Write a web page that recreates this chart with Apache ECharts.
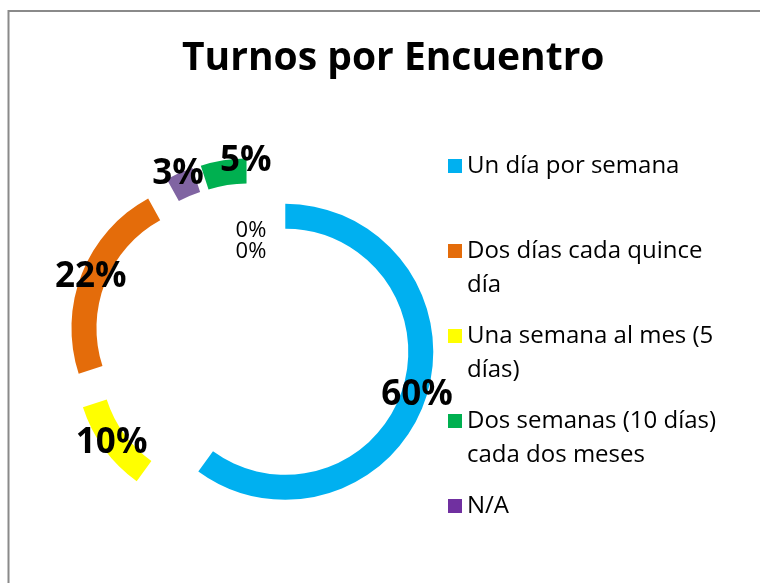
<!DOCTYPE html>
<html>
<head>
<meta charset="utf-8">
<title>Turnos por Encuentro</title>
<script src="https://cdn.jsdelivr.net/npm/echarts@6/dist/echarts.min.js"></script>
<style>
  html, body { margin: 0; padding: 0; background: #fff; overflow: hidden; }
  #chart { width: 760px; height: 583px; }
</style>
</head>
<body>
<div id="chart"></div>
<script>
// slices clockwise from 12 o'clock, as in the picture
const sliceNames = [
  'Un día por semana',
  'Una semana al mes (5 días)',
  'Dos días cada quince día',
  'N/A',
  'Dos semanas (10 días) cada dos meses',
  'Sin dato 1',
  'Sin dato 2'
]
const sliceValues = [60, 10, 22, 3, 5, 0, 0]
const sliceColors = ['#00B0F0', '#FFFF00', '#E46C0A', '#8064A2', '#00B050', '#FFFFFF', '#FFFFFF']

// legend order and how the legend wraps each name
const legendOrder = [
  'Un día por semana',
  'Dos días cada quince día',
  'Una semana al mes (5 días)',
  'Dos semanas (10 días) cada dos meses',
  'N/A'
]
const legendWrapped = [
  ['Un día por semana'],
  ['Dos días cada quince', 'día'],
  ['Una semana al mes (5', 'días)'],
  ['Dos semanas (10 días)', 'cada dos meses'],
  ['N/A']
]

// hand placed label nudges (Excel moved a few of them)
const labelNudge = {
  'N/A': [-5, -8],
  'Dos semanas (10 días) cada dos meses': [21, -9]
}
// the two 0% labels sit near the top of the hole
const zeroLabelOffset = {
  'Sin dato 1': [-1, -110],
  'Sin dato 2': [-1, -89]
}

const myChart = echarts.init(document.getElementById('chart'), null, { renderer: 'canvas' })

const pieData = sliceNames.map(function (name, i) {
  const item = {
    name: name,
    value: sliceValues[i],
    itemStyle: { color: sliceColors[i] }
  }
  if (sliceValues[i] > 0) {
    item.selected = true
  } else {
    item.label = {
      position: 'center',
      offset: zeroLabelOffset[name],
      fontSize: 22,
      fontWeight: 'normal'
    }
  }
  return item
})

const option = {
  animation: false,
  backgroundColor: '#fff',
  graphic: [{
    type: 'polyline',
    shape: { points: [[8.5, 700], [8.5, 11], [800, 11]] },
    style: { fill: null, stroke: '#8a8a8a', lineWidth: 2 },
    silent: true
  }],
  title: {
    text: 'Turnos por Encuentro',
    left: 182,
    top: 39,
    padding: 0,
    textStyle: {
      fontFamily: 'Open Sans',
      fontWeight: 'bold',
      fontSize: 39,
      color: '#000'
    }
  },
  legend: {
    orient: 'vertical',
    left: 448,
    top: 115,
    padding: 0,
    itemGap: -17,
    itemWidth: 14,
    itemHeight: 14,
    icon: 'rect',
    selectedMode: false,
    data: legendOrder.map(function (name) {
      return name === 'N/A' ? { name: name, itemStyle: { color: '#7030A0' } } : name
    }),
    formatter: function (name) {
      const lines = legendWrapped[legendOrder.indexOf(name)]
      // blank first line keeps the square level with the first text line
      return ' \n' + lines.join('\n') + (lines.length === 1 ? '\n ' : '')
    },
    textStyle: {
      fontFamily: 'Open Sans',
      fontSize: 24,
      lineHeight: 34,
      color: '#000'
    }
  },
  series: [{
    name: 'Turnos por Encuentro',
    type: 'pie',
    center: [252, 341],
    radius: [123, 148],
    startAngle: 90,
    clockwise: true,
    selectedMode: 'multiple',
    selectedOffset: 35,
    percentPrecision: 0,
    avoidLabelOverlap: false,
    emphasis: { disabled: true },
    label: {
      show: true,
      position: 'inside',
      formatter: '{d}%',
      fontFamily: 'Open Sans',
      fontWeight: 'bold',
      fontSize: 35,
      color: '#000',
      textBorderWidth: 0
    },
    labelLayout: function (params) {
      const nudge = labelNudge[sliceNames[params.dataIndex]]
      return nudge ? { dx: nudge[0], dy: nudge[1] } : {}
    },
    labelLine: { show: false },
    itemStyle: { borderWidth: 0 },
    data: pieData
  }]
}

myChart.setOption(option)
</script>
</body>
</html>
